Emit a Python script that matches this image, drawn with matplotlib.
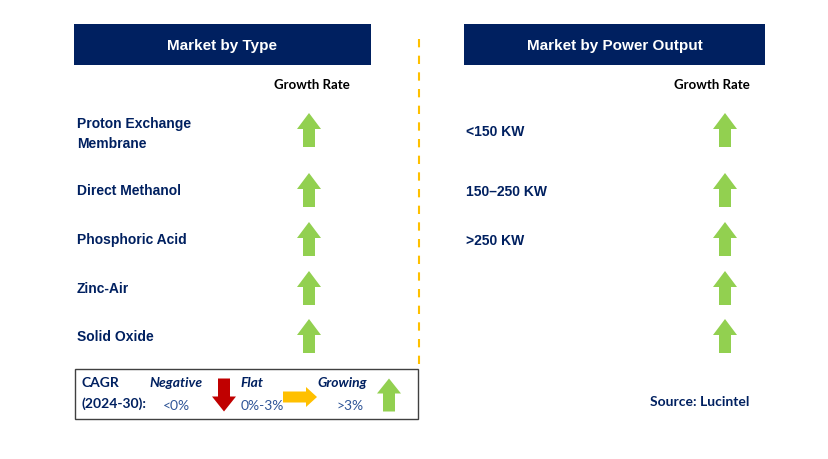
import matplotlib
matplotlib.use("Agg")
import matplotlib.pyplot as plt
from matplotlib.patches import Rectangle, Polygon

NAVY = "#002060"
GREEN = "#92D050"
RED = "#C00000"
AMBER = "#FFC000"

type_labels = ["Proton Exchange\nMembrane", "Direct Methanol", "Phosphoric Acid", "Zinc-Air", "Solid Oxide"]
type_growth = ["up", "up", "up", "up", "up"]
power_labels = ["<150 KW", "150–250 KW", ">250 KW", "", ""]
power_growth = ["up", "up", "up", "up", "up"]
row_y = [131, 191, 240, 289, 337]

legend_names = ["Negative", "Flat", "Growing"]
legend_ranges = ["<0%", "0%-3%", ">3%"]
legend_dirs = ["down", "right", "up"]


def arrow(ax, cx, cy, direction, color, length=34, width=24, shaft=12, head=16):
    # block arrow polygon, centred on (cx, cy); y axis points down
    h, w, s, hd = length / 2, width / 2, shaft / 2, head
    pts = [(-s, h), (-s, -h + hd), (-w, -h + hd), (0, -h), (w, -h + hd), (s, -h + hd), (s, h)]
    if direction == "down":
        pts = [(x, -y) for x, y in pts]
    elif direction == "right":
        pts = [(-y, x) for x, y in pts]
    ax.add_patch(Polygon([(cx + x, cy + y) for x, y in pts], closed=True, fc=color, ec="none"))


colors = {"up": GREEN, "down": RED, "right": AMBER}

fig = plt.figure(figsize=(8.29, 4.60), dpi=100)
ax = fig.add_axes([0, 0, 1, 1])
ax.set_xlim(0, 829); ax.set_ylim(460, 0); ax.axis("off")

# panel headers
for x0, x1, title in [(74, 371, "Market by Type"), (464, 765, "Market by Power Output")]:
    ax.add_patch(Rectangle((x0, 25), x1 - x0, 41, fc=NAVY, ec="none"))
    ax.text((x0 + x1) / 2, 46, title, color="white", fontsize=11, fontweight="bold",
            family="Liberation Sans", ha="center", va="center")

ax.text(312, 85, "Growth Rate", fontsize=9.5, fontweight="bold", family="Lato", ha="center", va="center")
ax.text(712, 85, "Growth Rate", fontsize=9.5, fontweight="bold", family="Lato", ha="center", va="center")

for lab, g, y in zip(type_labels, type_growth, row_y):
    ty = y + 3 if "\n" in lab else y
    ax.text(77, ty, lab, color=NAVY, fontsize=10, fontweight="bold", family="Liberation Sans",
            ha="left", va="center", linespacing=1.55)
    arrow(ax, 309, y, g, colors[g])

for lab, g, y in zip(power_labels, power_growth, row_y):
    ax.text(466, y + 1, lab, color=NAVY, fontsize=10, fontweight="bold", family="Liberation Sans",
            ha="left", va="center")
    arrow(ax, 725, y, g, colors[g])

# dashed divider
ax.plot([419, 419], [40, 366], color=AMBER, lw=1.5, ls=(0, (4, 4)))

# CAGR legend
ax.add_patch(Rectangle((75, 370), 343, 50, fc="none", ec="#404040", lw=1))
ax.text(82, 383, "CAGR", color=NAVY, fontsize=10, fontweight="bold", family="Lato", va="center")
ax.text(82, 404, "(2024-30):", color=NAVY, fontsize=10, fontweight="bold", family="Lato", va="center")
name_x = [176, 252, 342]
range_x = [176, 262, 350]
arrow_x = [224, 300, 389]
for nm, rg, d, nx, rx, axp in zip(legend_names, legend_ranges, legend_dirs, name_x, range_x, arrow_x):
    ax.text(nx, 383, nm, color=NAVY, fontsize=10, fontweight="bold", style="italic",
            family="Lato", ha="center", va="center")
    ax.text(rx, 406, rg, color="#2F5597", fontsize=10, family="Lato", ha="center", va="center")
    if d == "right":
        arrow(ax, axp, 398, d, colors[d], length=34, width=20, shaft=11, head=11)
    else:
        arrow(ax, axp, 396, d, colors[d], length=33, width=24, shaft=12, head=15)

ax.text(700, 402, "Source: Lucintel", color=NAVY, fontsize=10, fontweight="bold", family="Lato",
        ha="center", va="center")

fig.savefig("out.png", dpi=100)
